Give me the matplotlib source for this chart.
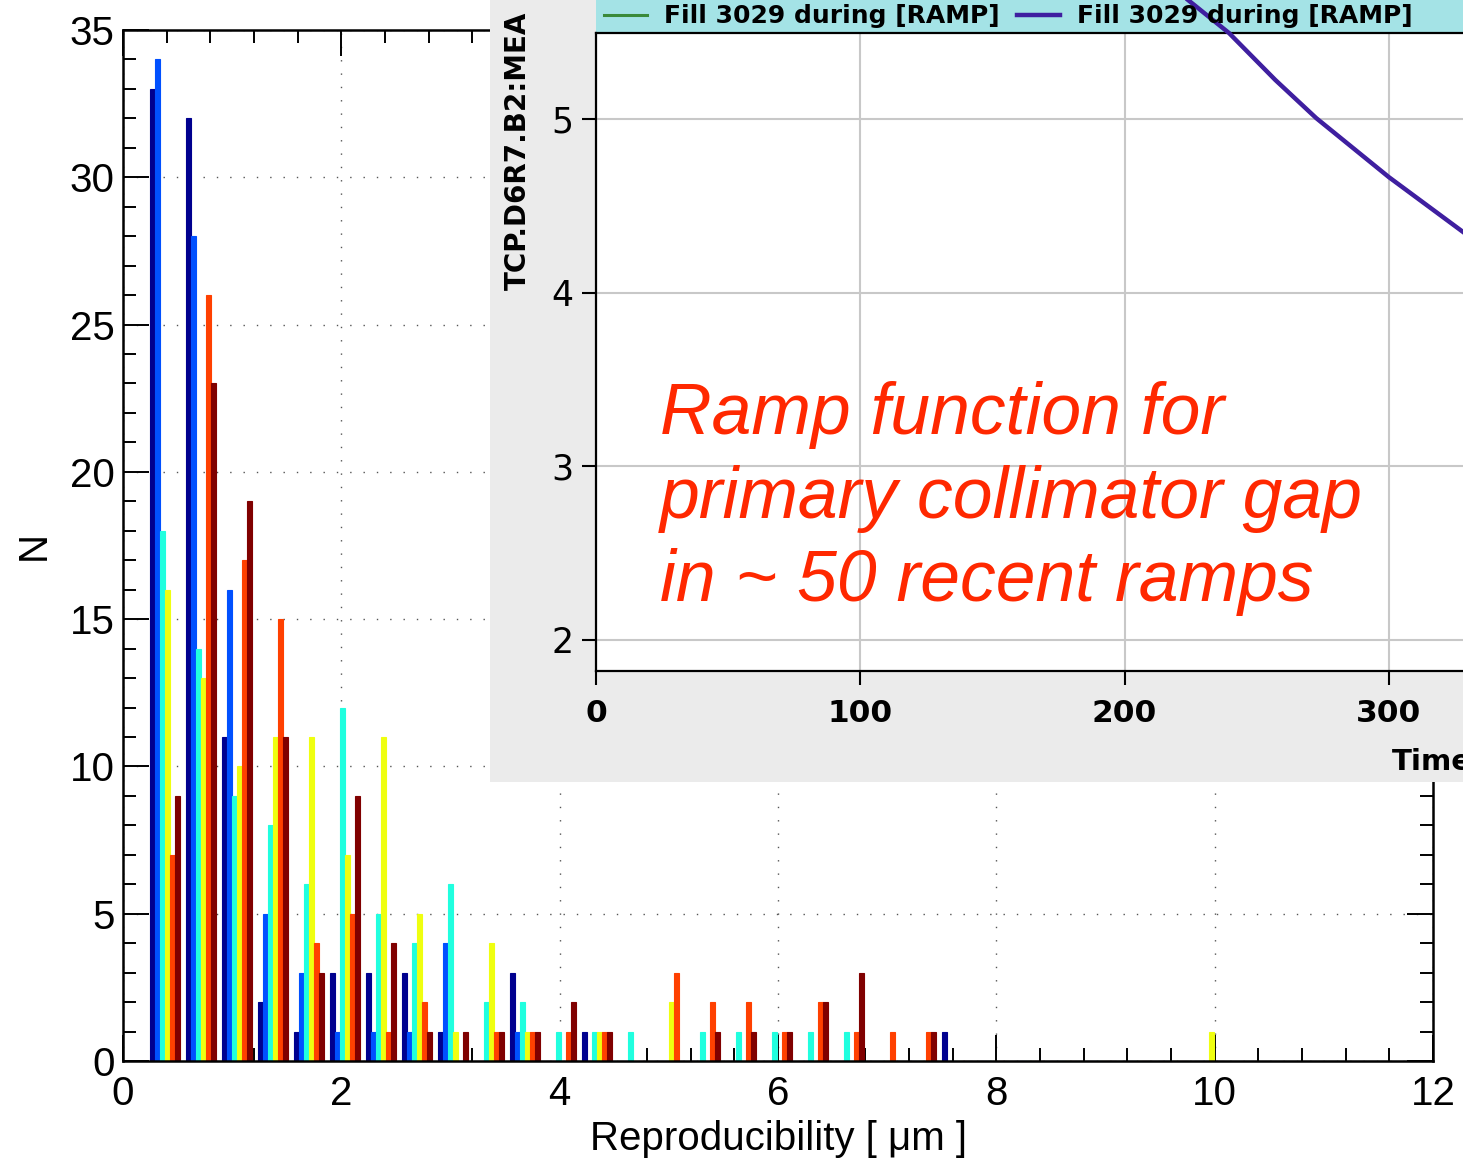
"""
collimator gap reproducibility histogram with the timber ramp plot pasted on top
"""

import numpy as np
import matplotlib.pyplot as plt
from matplotlib.ticker import MultipleLocator

plt.rcParams['font.family'] = 'Liberation Sans'

W, H = 1463, 1158

# histogram: 30 equal bins between smallest and largest value
bin_lo, bin_hi, n_bins = 0.22, 10.11, 30
bin_w = (bin_hi - bin_lo) / n_bins
bin_centers = bin_lo + (np.arange(n_bins) + 0.5) * bin_w

ramps_1 = [33, 32, 11, 2, 1, 3, 3, 3, 1, 0, 3, 0, 1, 0, 0, 0, 0, 0, 0, 0, 0, 0, 1, 0, 0, 0, 0, 0, 0, 0]
ramps_2 = [34, 28, 16, 5, 3, 1, 1, 1, 4, 0, 1, 0, 0, 0, 0, 0, 0, 0, 0, 0, 0, 0, 0, 0, 0, 0, 0, 0, 0, 0]
ramps_3 = [18, 14, 9, 8, 6, 12, 5, 4, 6, 2, 2, 1, 1, 1, 0, 1, 1, 1, 1, 1, 0, 0, 0, 0, 0, 0, 0, 0, 0, 0]
ramps_4 = [16, 13, 10, 11, 11, 7, 11, 5, 1, 4, 1, 0, 1, 0, 2, 0, 0, 0, 0, 0, 0, 0, 0, 0, 0, 0, 0, 0, 0, 1]
ramps_5 = [7, 26, 17, 15, 4, 5, 1, 2, 0, 1, 1, 1, 1, 0, 3, 2, 2, 1, 2, 1, 1, 1, 0, 0, 0, 0, 0, 0, 0, 0]
ramps_6 = [9, 23, 19, 11, 3, 9, 4, 1, 1, 1, 1, 2, 1, 0, 0, 1, 1, 1, 2, 3, 0, 1, 0, 0, 0, 0, 0, 0, 0, 0]
colors = ['#00008f', '#0050ff', '#20ffdf', '#efff10', '#ff4000', '#800000']

# timber screenshot curve (Fill 3029 during RAMP)
time_s = [224, 239.5, 257, 272.5, 300, 328]
gap_fill_green = [5.685, 5.495, 5.225, 5.005, 4.665, 4.35]
gap_fill_purple = [5.685, 5.495, 5.225, 5.005, 4.665, 4.35]

fig = plt.figure(figsize=(W / 100, H / 100), dpi=100)

# main histogram
ax = fig.add_axes([123 / W, 1 - 1061 / H, 1310 / W, 1031 / H])
all_ramps = [ramps_1, ramps_2, ramps_3, ramps_4, ramps_5, ramps_6]
bw = 0.83 * bin_w / len(all_ramps)
for i, (vals, c) in enumerate(zip(all_ramps, colors)):
    ax.bar(bin_centers + (i - 2.5) * bw, vals, width=bw, color=c,
           edgecolor=c, linewidth=0.8, zorder=2)

ax.set_xlim(0, 12)
ax.set_ylim(0, 35)
ax.xaxis.set_major_locator(MultipleLocator(2))
ax.xaxis.set_minor_locator(MultipleLocator(0.4))
ax.yaxis.set_major_locator(MultipleLocator(5))
ax.yaxis.set_minor_locator(MultipleLocator(1))
ax.tick_params(which='both', direction='in', top=True, right=True, width=1.4)
ax.tick_params(which='major', length=19, labelsize=29)
ax.tick_params(which='minor', length=9.5)
ax.tick_params(axis='x', which='major', pad=10)
ax.tick_params(axis='y', which='major', pad=6)
for s in ax.spines.values():
    s.set_linewidth(1.8)
ax.grid(True, which='major', color='#555555', linestyle=(0, (1, 8.6)), linewidth=1)
ax.set_axisbelow(True)
ax.set_xlabel("Reproducibility [ μm ]", fontsize=29, labelpad=5)
ax.set_ylabel("N", fontsize=29, labelpad=12)

# pasted screenshot of the ramp function
panel = fig.add_axes([490 / W, 1 - 782 / H, (W - 490) / W, 782 / H])
panel.set_facecolor('#ebebeb')
panel.set_xticks([])
panel.set_yticks([])
for s in panel.spines.values():
    s.set_visible(False)

bar = fig.add_axes([596 / W, 1 - 33 / H, (W - 596) / W, 33 / H])
bar.set_facecolor('#a4e3e6')
bar.set_xticks([])
bar.set_yticks([])
for s in bar.spines.values():
    s.set_visible(False)

ax_in = fig.add_axes([596 / W, 1 - 671 / H, (W - 596) / W, (671 - 33) / H])
ax_in.plot(time_s, gap_fill_green, color='#3a8a3a', lw=2.2,
           label="Fill 3029 during [RAMP]", clip_on=False, zorder=3)
ax_in.plot(time_s, gap_fill_purple, color='#3f1fa0', lw=3.2,
           label="Fill 3029 during [RAMP]", clip_on=False, zorder=4)
ax_in.set_xlim(0, (W - 596) / 2.643)
ax_in.set_ylim(1.8215, 5.495)
ax_in.set_xticks([0, 100, 200, 300])
ax_in.set_yticks([2, 3, 4, 5])
ax_in.grid(True, color='#c8c8c8', lw=1.5)
ax_in.set_axisbelow(True)
ax_in.spines['right'].set_visible(False)
for s in ['left', 'bottom', 'top']:
    ax_in.spines[s].set_linewidth(1.6)
ax_in.tick_params(direction='out', length=10, width=1.5)
ax_in.tick_params(axis='x', pad=10)
ax_in.tick_params(axis='y', pad=6)
for lab in ax_in.get_xticklabels():
    lab.set_family('DejaVu Sans')
    lab.set_weight('bold')
    lab.set_fontsize(22.5)
for lab in ax_in.get_yticklabels():
    lab.set_family('DejaVu Sans')
    lab.set_fontsize(25)

ax_in.legend(loc='center left', bbox_to_anchor=(0, 1.0, 1, 33 / 638), ncol=2,
             frameon=False, borderaxespad=0, borderpad=0.3,
             handlelength=1.75, handletextpad=0.65, columnspacing=0.7,
             prop={'family': 'DejaVu Sans', 'weight': 'bold', 'size': 18})

fig.text(518 / W, 1 - 290 / H, "TCP.D6R7.B2:MEA", rotation=90,
         ha='center', va='bottom', family='DejaVu Sans', weight='bold', fontsize=20)
fig.text(1392 / W, 1 - 762 / H, "Time", ha='left', va='center',
         family='DejaVu Sans', weight='bold', fontsize=21)

note_lines = ["Ramp function for", "primary collimator gap", "in ~ 50 recent ramps"]
note_baselines = [434, 518, 601.5]
for txt, yb in zip(note_lines, note_baselines):
    fig.text(660 / W, 1 - yb / H, txt, color='#ff2800', style='italic',
             fontsize=51.5, va='baseline', ha='left')

fig.savefig("out.png", dpi=100)
